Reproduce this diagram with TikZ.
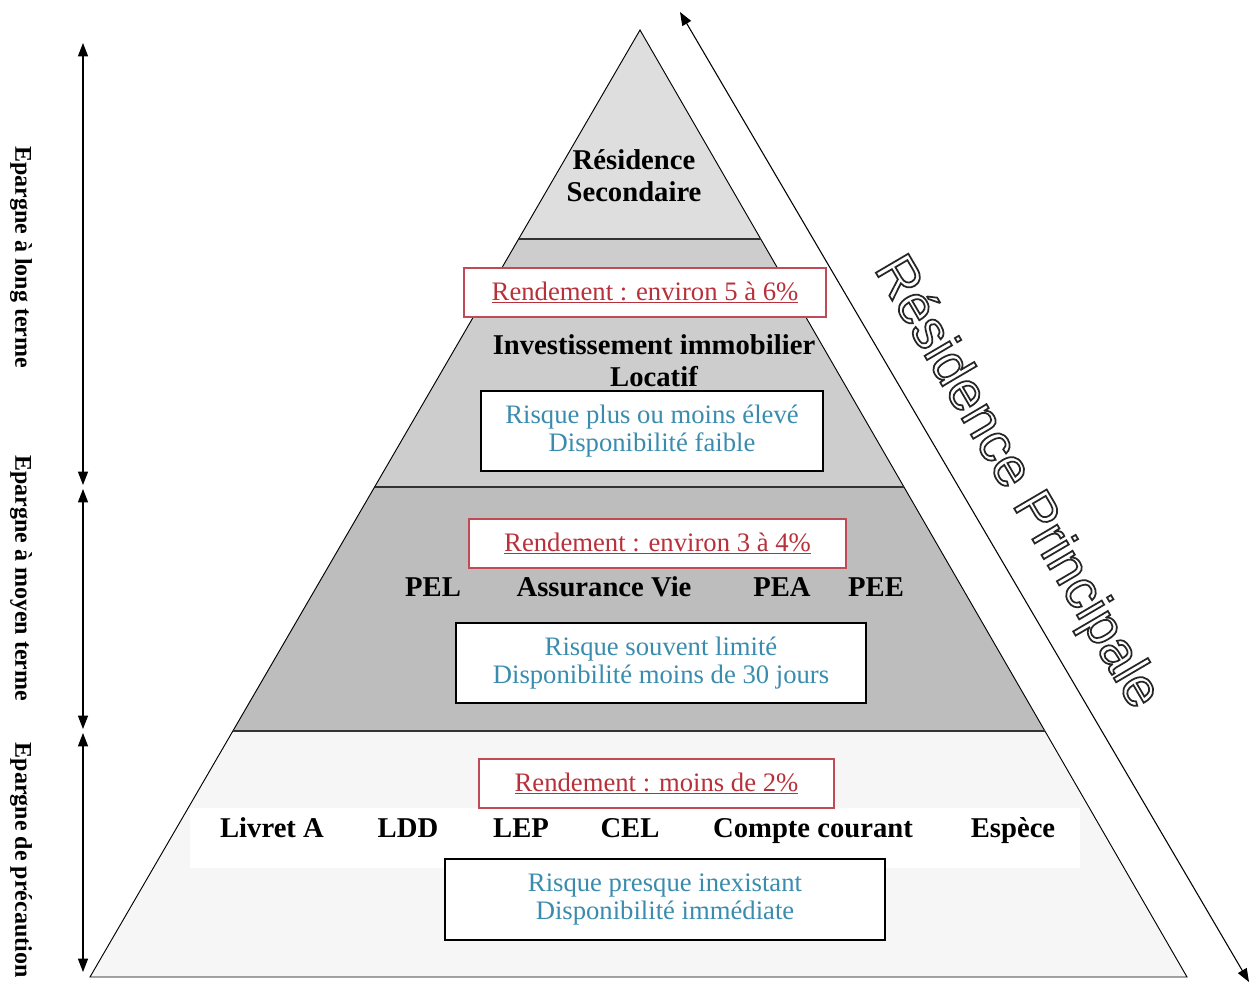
\documentclass[tikz,border=0pt]{standalone}
\usepackage{fontspec}
\setmainfont{Liberation Serif}
\newfontfamily\arialf{Liberation Sans}
\usetikzlibrary{arrows.meta}
\definecolor{redtxt}{HTML}{B8303A}
\definecolor{redbox}{HTML}{C04A55}
\definecolor{bluetxt}{HTML}{3A8CAE}
\definecolor{gA}{HTML}{DEDEDE}
\definecolor{gB}{HTML}{CDCDCD}
\definecolor{gC}{HTML}{BDBDBD}
\definecolor{gD}{HTML}{F6F6F6}
\newcommand{\outlinetext}[1]{\special{pdf:literal direct q 1 Tr 1.3 w 0.15 G}#1\special{pdf:literal direct Q}}
\begin{document}
\begin{tikzpicture}[x=0.75pt,y=-0.75pt,
  rbox/.style={draw=redbox, line width=0.9pt, fill=white, inner sep=0pt, text=redtxt, font=\fontsize{20}{22}\selectfont},
  bbox/.style={draw=black, line width=0.9pt, fill=white, inner sep=0pt, text=bluetxt, align=center, font=\fontsize{20}{21}\selectfont},
  itemtxt/.style={font=\bfseries\fontsize{21.5}{24}\selectfont, inner sep=0pt, text height=0.68em, text depth=0pt},
  headtxt/.style={font=\bfseries\fontsize{21.5}{24}\selectfont, align=center, inner sep=0pt},
  sidetxt/.style={font=\bfseries\fontsize{18}{20}\selectfont, rotate=-90, inner sep=0pt},
  harrow/.style={line width=0.9pt, {Triangle[length=10pt,width=7.5pt]}-{Triangle[length=10pt,width=7.5pt]}},
  pyredge/.style={draw=black, line width=0.7pt},
  bandline/.style={draw=black!80, line width=1.2pt}
]
\fill[white] (0,0) rectangle (1251,985);
\useasboundingbox (0,0) rectangle (1251,985);
% pyramid bands
\fill[gA] (640,30) -- (760.7,239) -- (518.6,239) -- cycle;
\fill[gB] (518.6,239) -- (760.7,239) -- (903.9,487) -- (374.6,487) -- cycle;
\fill[gC] (374.6,487) -- (903.9,487) -- (1044.9,731) -- (232.6,731) -- cycle;
\fill[gD] (232.6,731) -- (1044.9,731) -- (1187,977) -- (90,977) -- cycle;
\fill[white] (190,808) rectangle (1080,868);
\draw[pyredge] (640,30) -- (1187,977) -- (90,977) -- cycle;
\draw[bandline] (518.6,239) -- (760.7,239);
\draw[bandline] (374.6,487) -- (903.9,487);
\draw[bandline] (232.6,731) -- (1044.9,731);

% left arrows
\coordinate (a1t) at (83,43);
\coordinate (a1b) at (83,485);
\coordinate (a2t) at (83,489);
\coordinate (a2b) at (83,729);
\coordinate (a3t) at (83,733);
\coordinate (a3b) at (83,972);
\draw[harrow] (a1t) -- (a1b);
\draw[harrow] (a2t) -- (a2b);
\draw[harrow] (a3t) -- (a3b);
\node[sidetxt] (s1) at (21,257) {Epargne à long terme};
\node[sidetxt] (s2) at (21,578) {Epargne à moyen terme};
\node[sidetxt] (s3) at (21,860) {Epargne de précaution};

% diagonal arrow
\coordinate (dt) at (680,12);
\coordinate (db) at (1249,982);
\draw[harrow, line width=0.8pt] (dt) -- (db);
\node[rotate=-59.6, inner sep=0pt, font=\arialf\fontsize{41}{41}\selectfont] (rp) at (1016,483)
  {\outlinetext{Résidence Principale}};

% top
\node[headtxt] (rs) at (634,176) {Résidence\\Secondaire};

% second band
\node[rbox, minimum width={362*0.75pt}, minimum height={49*0.75pt}] (r1) at (645,292.5) {\underline{Rendement : environ 5 à 6\%}};
\node[headtxt] (inv) at (654,361) {Investissement immobilier\\Locatif};
\node[bbox, minimum width={342*0.75pt}, minimum height={80*0.75pt}] (b1) at (652,431) {Risque plus ou moins élevé\\Disponibilité faible};

% third band
\node[rbox, minimum width={377*0.75pt}, minimum height={49*0.75pt}] (r2) at (657.5,543.5) {\underline{Rendement : environ 3 à 4\%}};
\node[itemtxt] (pel) at (433,592) {PEL};
\node[itemtxt] (av) at (604,592) {Assurance Vie};
\node[itemtxt] (pea) at (782,592) {PEA};
\node[itemtxt] (pee) at (876,592) {PEE};
\node[bbox, minimum width={410*0.75pt}, minimum height={80*0.75pt}] (b2) at (661,663) {Risque souvent limité\\Disponibilité moins de 30 jours};

% bottom band
\node[rbox, minimum width={355*0.75pt}, minimum height={49*0.75pt}] (r3) at (656.5,783.5) {\underline{Rendement : moins de 2\%}};
\node[itemtxt] (la) at (272,833) {Livret A};
\node[itemtxt] (ldd) at (408,833) {LDD};
\node[itemtxt] (lep) at (521,833) {LEP};
\node[itemtxt] (cel) at (630,833) {CEL};
\node[itemtxt] (cc) at (813,833) {Compte courant};
\node[itemtxt] (esp) at (1013,833) {Espèce};
\node[bbox, minimum width={440*0.75pt}, minimum height={81*0.75pt}] (b3) at (665,899.5) {Risque presque inexistant\\Disponibilité immédiate};
\end{tikzpicture}
\end{document}
